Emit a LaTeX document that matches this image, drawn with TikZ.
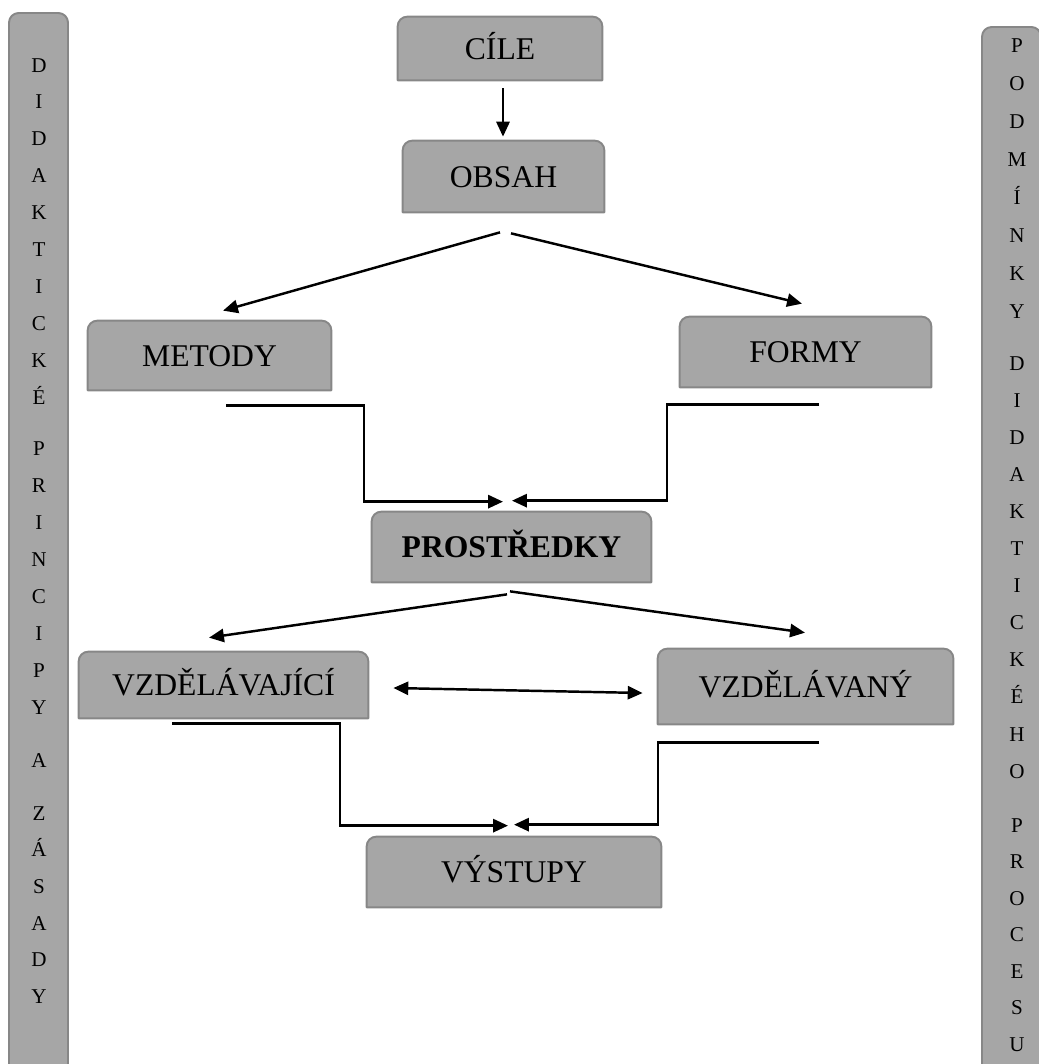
\documentclass[tikz,border=0pt]{standalone}
\usepackage{fontspec}
\setmainfont{Liberation Serif}
\usetikzlibrary{arrows.meta,calc,backgrounds}
\definecolor{boxgray}{HTML}{A6A6A6}
\definecolor{boxedge}{HTML}{878787}
\tikzset{
	box/.style 2 args={minimum width=#1*0.02cm, minimum height=#2*0.02cm, inner sep=0pt,
		text height=12pt, text depth=0pt, font=\fontsize{18}{21}\selectfont},
	boxshape/.style={fill=boxgray, draw=boxedge, line width=1.1pt, rounded corners=5.5pt, line cap=round},
	barletter/.style={inner sep=0pt, text height=8pt, text depth=0pt, font=\fontsize{12}{14}\selectfont},
	arr/.style={line width=1.4pt, -{Triangle[length=8.5pt,width=7.5pt]}},
	dblarr/.style={line width=1.4pt, {Triangle[length=8.5pt,width=7.5pt]}-{Triangle[length=8.5pt,width=7.5pt]}}
}
\begin{document}
\begin{tikzpicture}[x=0.02cm,y=-0.02cm]
	\useasboundingbox (0,0) rectangle (1038,1064);

	\filldraw[boxshape] (9,1090) -- (9,13) -- (68,13) -- (68,1090);
	\filldraw[boxshape] (982,1090) -- (982,27) -- (1041,27) -- (1041,1090);

	\node[box={204}{63}] (cile) at (500,48.5) {CÍLE};
	\node[box={201}{71}] (obsah) at (503.5,176.5) {OBSAH};
	\node[box={243}{69}] (metody) at (209.5,355.5) {METODY};
	\node[box={251}{70}] (formy) at (805.5,352) {FORMY};
	\node[box={279}{70},font=\fontsize{18}{21}\selectfont\bfseries] (prostredky) at (511.5,547) {PROSTŘEDKY};
	\node[box={289}{66}] (vzdelavajici) at (223.5,685) {VZDĚLÁVAJÍCÍ};
	\node[box={295}{75}] (vzdelavany) at (805.5,686.5) {VZDĚLÁVANÝ};
	\node[box={294}{70}] (vystupy) at (514,872) {VÝSTUPY};

	\begin{scope}[on background layer]
	\foreach \n in {cile,obsah,metody,formy,prostredky,vzdelavajici,vzdelavany,vystupy}
		\filldraw[boxshape] (\n.south west) -- (\n.north west) -- (\n.north east) -- (\n.south east)
			(\n.south east) -- (\n.south west);
	\end{scope}

	% left bar
	\foreach \ch [count=\i from 0] in {D,I,D,A,K,T,I,C,K,É}
		\node[barletter] (ld\i) at (39,{65+36.9*\i}) {\ch};
	\foreach \ch [count=\i from 0] in {P,R,I,N,C,I,P,Y}
		\node[barletter] (lp\i) at (39,{448+37*\i}) {\ch};
	\node[barletter] (la) at (39,760) {A};
	\foreach \ch [count=\i from 0] in {Z,Á,S,A,D,Y}
		\node[barletter] (lz\i) at (39,{813+36.7*\i}) {\ch};

	% right bar
	\foreach \ch [count=\i from 0] in {P,O,D,M,Í,N,K,Y}
		\node[barletter] (rp\i) at (1017,{45+38*\i}) {\ch};
	\foreach \ch [count=\i from 0] in {D,I,D,A,K,T,I,C,K,É,H,O}
		\node[barletter] (rd\i) at (1017,{363+37.1*\i}) {\ch};
	\foreach \ch [count=\i from 0] in {P,R,O,C,E,S,U}
		\node[barletter] (rr\i) at (1017,{825+36.5*\i}) {\ch};

	\draw[arr] ($(cile.south)+(3,8)$) -- ($(obsah.north)+(-0.5,-4)$);
	\draw[arr] ($(obsah.south)+(-3.5,20)$) -- ($(metody.north)+(13.5,-10)$);
	\draw[arr] ($(obsah.south)+(7.5,21)$) -- ($(formy.north)+(-3.5,-13)$);
	\draw[arr] ($(metody.south)+(16.5,15)$) -- ++(138,0) |- ($(prostredky.north)+(-8.5,-10)$);
	\draw[arr] ($(formy.south)+(13.5,17)$) -- ++(-152,0) |- ($(prostredky.north)+(0.5,-11)$);
	\draw[arr] ($(prostredky.south)+(-4.5,12)$) -- ($(vzdelavajici.north)+(-14.5,-14)$);
	\draw[arr] ($(prostredky.south)+(-1.5,9)$) -- ($(vzdelavany.north)+(-0.5,-16)$);
	\draw[dblarr] ($(vzdelavajici.east)+(25,3)$) -- ($(vzdelavany.west)+(-15,6.5)$);
	\draw[arr] ($(vzdelavajici.south)+(-51.5,5)$) -- ++(168,0) |- ($(vystupy.north)+(-6,-11)$);
	\draw[arr] ($(vzdelavany.south)+(13.5,18)$) -- ++(-161,0) |- ($(vystupy.north)+(0,-12)$);

\end{tikzpicture}
\end{document}
